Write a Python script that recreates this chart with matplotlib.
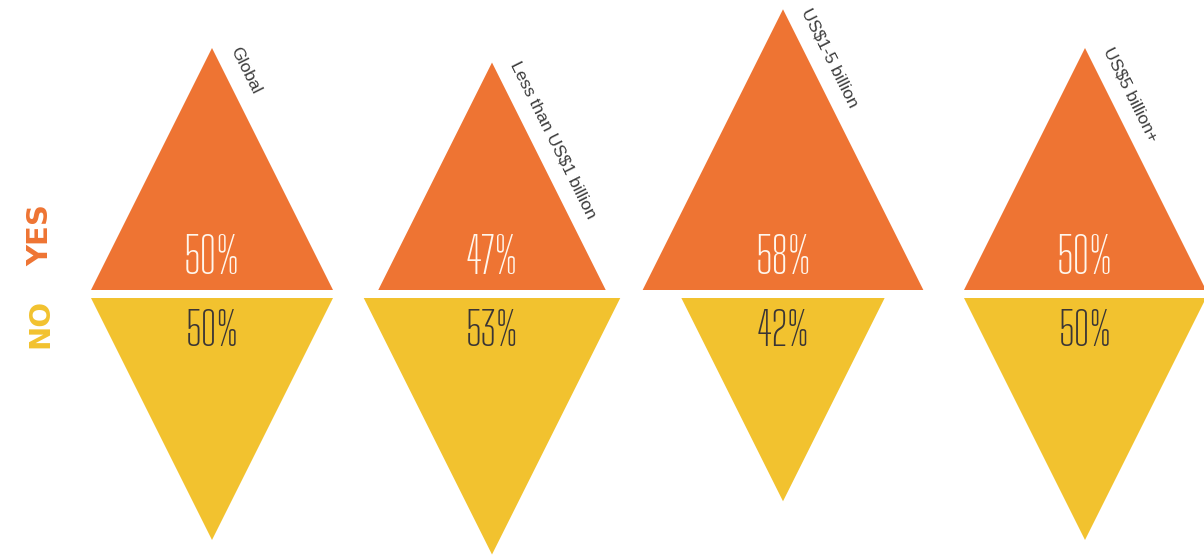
import numpy as np
import matplotlib
matplotlib.use("Agg")
import matplotlib.pyplot as plt
from matplotlib.patches import Polygon

# Survey answers by company revenue band (share of respondents, %)
categories = ["Global", "Less than US$1 billion", "US$1-5 billion", "US$5 billion+"]
yes_values = [50, 47, 58, 50]
no_values = [50, 53, 42, 50]

# Layout (figure pixels)
W, H = 1204, 556
centers = [212, 492, 783, 1085]
yes_base = 290          # base line of the upward (YES) triangles
no_top = 298            # top line of the downward (NO) triangles
px_per_pct = 4.84       # triangle height (and base width) per percentage point

ORANGE = "#EE7433"
YELLOW = "#F2C22F"
TEXT_DARK = "#3A3535"
LABEL_GREY = "#3C3C3C"

NUM_FONT = ["Big Shoulders Text", "DejaVu Sans"]
HEAD_FONT = ["DejaVu Sans"]

fig = plt.figure(figsize=(W / 100, H / 100), dpi=100)
ax = fig.add_axes([0, 0, 1, 1])
ax.set_xlim(0, W)
ax.set_ylim(H, 0)
ax.axis("off")
fig.patch.set_facecolor("white")

for cx, name, yv, nv in zip(centers, categories, yes_values, no_values):
    hy = yv * px_per_pct
    hn = nv * px_per_pct
    up = Polygon([(cx - hy / 2, yes_base), (cx + hy / 2, yes_base), (cx, yes_base - hy)],
                 closed=True, facecolor=ORANGE, edgecolor="none")
    down = Polygon([(cx - hn / 2, no_top), (cx + hn / 2, no_top), (cx, no_top + hn)],
                   closed=True, facecolor=YELLOW, edgecolor="none")
    ax.add_patch(up)
    ax.add_patch(down)

    ax.text(cx, 259, f"{yv}%", color="#FFF6EC", fontsize=35, family=NUM_FONT,
            ha="center", va="center")
    ax.text(cx, 332, f"{nv}%", color=TEXT_DARK, fontsize=33, family=NUM_FONT,
            ha="center", va="center")

    # category label running down the right edge of the YES triangle
    apex = np.array([cx, yes_base - hy])
    d = np.array([hy / 2, hy])
    d = d / np.linalg.norm(d)
    n = np.array([d[1], -d[0]])
    pos = apex + 12 * n + 10 * d
    angle = -np.degrees(np.arctan2(hy, hy / 2))
    ax.text(pos[0], pos[1], name, rotation=angle, rotation_mode="anchor",
            ha="left", va="bottom", fontsize=12.5, color=LABEL_GREY,
            family="Liberation Sans")

ax.text(40, 235, "YES", rotation=90, ha="center", va="center", fontsize=21,
        fontweight="bold", color=ORANGE, family=HEAD_FONT)
ax.text(40, 323, "NO", rotation=90, ha="center", va="center", fontsize=21,
        fontweight="bold", color=YELLOW, family=HEAD_FONT)

fig.savefig("out.png", dpi=100, facecolor="white")
